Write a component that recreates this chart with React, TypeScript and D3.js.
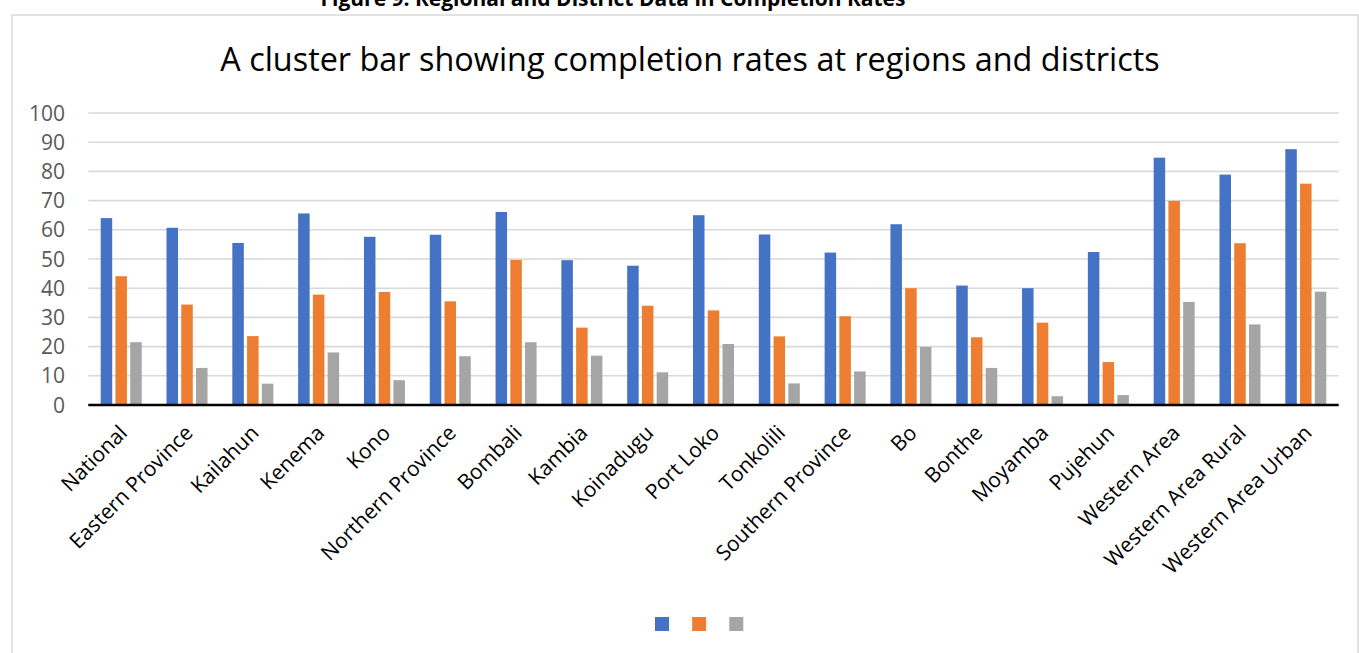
import React from "react";
import * as d3 from "d3";

// Completion rates (%) by region and district
const categories = [
  "National",
  "Eastern Province",
  "Kailahun",
  "Kenema",
  "Kono",
  "Northern Province",
  "Bombali",
  "Kambia",
  "Koinadugu",
  "Port Loko",
  "Tonkolili",
  "Southern Province",
  "Bo",
  "Bonthe",
  "Moyamba",
  "Pujehun",
  "Western Area",
  "Western Area Rural",
  "Western Area Urban",
];

const series1 = [64.0, 60.7, 55.5, 65.6, 57.6, 58.3, 66.1, 49.6, 47.7, 65.0, 58.4, 52.2, 61.9, 40.9, 40.0, 52.4, 84.7, 78.9, 87.6];
const series2 = [44.1, 34.4, 23.6, 37.8, 38.7, 35.5, 49.7, 26.5, 34.0, 32.4, 23.5, 30.4, 40.0, 23.2, 28.2, 14.7, 69.9, 55.4, 75.8];
const series3 = [21.5, 12.7, 7.3, 18.0, 8.5, 16.7, 21.5, 16.9, 11.2, 20.9, 7.4, 11.5, 19.9, 12.7, 3.0, 3.4, 35.3, 27.6, 38.8];

const seriesKeys = ["s1", "s2", "s3"];
const seriesValues = [series1, series2, series3];
const seriesColors = ["#4472C4", "#ED7D31", "#A5A5A5"];

const yTicks = [0, 10, 20, 30, 40, 50, 60, 70, 80, 90, 100];

const W = 1359;
const H = 653;
const plotLeft = 88.3;
const plotRight = 1338.7;
const plotTop = 113;
const plotBottom = 405;

const FONT = "'Open Sans', 'Noto Sans', sans-serif";

export default function App() {
  const x = d3.scaleBand<string>().domain(categories).range([plotLeft, plotRight]).padding(0);
  const xSub = d3.scaleBand<string>().domain(seriesKeys).range([-20.5, 20.5]).paddingInner(0.22);
  const y = d3.scaleLinear().domain([0, 100]).range([plotBottom, plotTop]);

  const legendX = d3.scaleBand<string>().domain(seriesKeys).range([655, 746]).paddingInner(0.55);

  return (
    <svg
      width={W}
      height={H}
      viewBox={`0 0 ${W} ${H}`}
      style={{ position: "absolute", left: 0, top: 0, background: "#fff" }}
    >
      {/* caption above the chart frame */}
      <text
        x={613}
        y={6}
        textAnchor="middle"
        fontFamily={FONT}
        fontWeight={700}
        fontSize={21}
        fill="#000"
      >
        Figure 9: Regional and District Data in Completion Rates
      </text>

      {/* chart frame */}
      <rect x={12} y={15} width={1346} height={650} fill="#fff" stroke="#d9d9d9" strokeWidth={1.5} />

      <text x={690} y={71} textAnchor="middle" fontFamily={FONT} fontSize={32.4} fill="#000">
        A cluster bar showing completion rates at regions and districts
      </text>

      {/* gridlines */}
      {yTicks.map((t) => (
        <line key={t} x1={plotLeft} x2={plotRight} y1={y(t)} y2={y(t)} stroke="#d9d9d9" strokeWidth={1.6} />
      ))}

      {/* y tick labels */}
      {yTicks.map((t) => (
        <text
          key={"l" + t}
          x={65}
          y={y(t)}
          dy="0.36em"
          textAnchor="end"
          fontFamily={FONT}
          fontSize={21}
          fill="#595959"
        >
          {t}
        </text>
      ))}

      {/* bars */}
      {categories.map((c, i) => (
        <g key={c} transform={`translate(${(x(c) as number) + x.bandwidth() / 2},0)`}>
          {seriesKeys.map((k, j) => {
            const v = seriesValues[j][i];
            return (
              <rect
                key={k}
                x={xSub(k) as number}
                y={y(v)}
                width={xSub.bandwidth()}
                height={y(0) - y(v)}
                fill={seriesColors[j]}
              />
            );
          })}
        </g>
      ))}

      {/* x axis line */}
      <line x1={plotLeft} x2={plotRight} y1={plotBottom} y2={plotBottom} stroke="#000" strokeWidth={2.5} />

      {/* category labels */}
      {categories.map((c) => {
        const cx = (x(c) as number) + x.bandwidth() / 2 + 2;
        const cy = 429;
        return (
          <text
            key={"c" + c}
            transform={`translate(${cx},${cy}) rotate(-45)`}
            textAnchor="end"
            dy="0.35em"
            fontFamily={FONT}
            fontSize={21}
            fill="#000"
          >
            {c}
          </text>
        );
      })}

      {/* legend swatches */}
      {seriesKeys.map((k, j) => (
        <rect
          key={"lg" + k}
          x={legendX(k) as number}
          y={617}
          width={14}
          height={14}
          fill={seriesColors[j]}
        />
      ))}
    </svg>
  );
}
